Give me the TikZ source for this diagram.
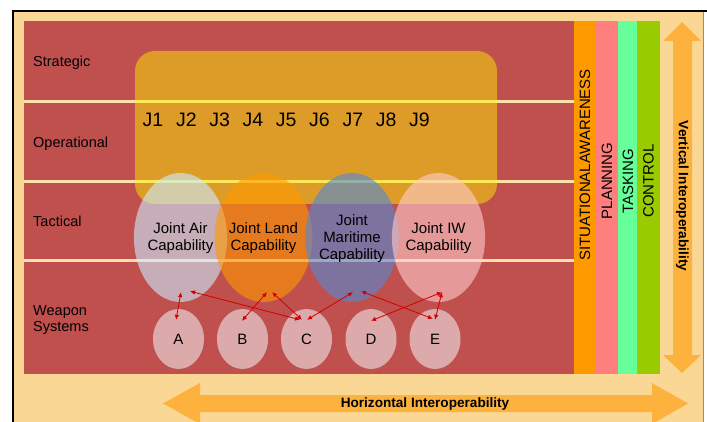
\documentclass[tikz,border=0pt]{standalone}
\usepackage{fontspec}
\setmainfont{Liberation Sans}
\usetikzlibrary{arrows.meta,calc,shapes.geometric}
\definecolor{tanbg}{HTML}{FAD794}
\definecolor{redbg}{HTML}{C0504D}
\definecolor{creamline}{HTML}{FCE0A8}
\definecolor{colsa}{HTML}{FF9900}
\definecolor{colpl}{HTML}{FF7F7F}
\definecolor{colta}{HTML}{66FF99}
\definecolor{colco}{HTML}{99CC00}
\definecolor{bigarrow}{HTML}{FDB23E}
\definecolor{airc}{HTML}{CCECFF}
\definecolor{landc}{HTML}{FF9900}
\definecolor{marc}{HTML}{5289D7}
\definecolor{iwc}{HTML}{FFCCCC}
\definecolor{smallc}{HTML}{DCAAAA}
\definecolor{arrred}{HTML}{D00000}
\begin{document}
\begin{tikzpicture}[x=1pt,y=-1pt,
  lbl/.style={anchor=base west, inner sep=0pt, font=\fontsize{14.5}{16.5}\selectfont, align=left},
  jlbl/.style={inner sep=0pt, font=\fontsize{19.5}{22}\selectfont},
  capell/.style={shape=ellipse, inner sep=0pt, fill opacity=0.6, text opacity=1, align=center,
    font=\fontsize{15}{17}\selectfont, minimum width=91pt, minimum height=129pt},
  wsys/.style={shape=ellipse, inner sep=0pt, fill=smallc, minimum width=51pt, minimum height=60pt,
    font=\fontsize{15}{17}\selectfont},
  coltext/.style={inner sep=0pt, rotate=90, font=\fontsize{15}{17}\selectfont},
  interop/.style={inner sep=0pt, font=\bfseries\fontsize{13.6}{16}\selectfont},
  conn/.style={draw=arrred, line width=0.8pt, arrows={Latex[length=5pt,width=4.5pt]-Latex[length=5pt,width=4.5pt]}},
  layerline/.style={draw=creamline, line width=3pt}
]
\useasboundingbox (0,0) rectangle (707,422);
\clip (0,0) rectangle (707,422);
\fill[white] (0,0) rectangle (707,422);
% background
\fill[tanbg] (14,12) rectangle (703,422);
\draw[black!35!tanbg, line width=0.8pt] (703,12) -- (703,422);
\draw[black, line width=2pt, line join=miter] (13,422) -- (13,11) -- (707,11);
% main red area
\fill[redbg] (24,21) rectangle (574,374);
% columns
\fill[colsa] (574,21) rectangle (596,374);
\fill[colpl] (596,21) rectangle (618,374);
\fill[colta] (618,21) rectangle (637,374);
\fill[colco] (637,21) rectangle (660,374);
% layer lines
\foreach \yy in {102,182,261} \draw[layerline] (24,\yy) -- (574,\yy);
% J box
\fill[yellow, fill opacity=0.47, rounded corners=20pt] (135,51) rectangle (497,204);
% left labels
\node[lbl] (strat) at (33,67) {Strategic};
\node[lbl] (oper) at (33,147.5) {Operational};
\node[lbl] (tact) at (33,227) {Tactical};
\node[lbl] (weap) at (33,331.5) {Weapon\\Systems};
% J labels
\foreach \i in {1,...,9} \node[jlbl] (j\i) at ({153+33.3*(\i-1)},119.5) {J\i};
% capabilities
\node[capell, fill=airc] (air) at (180.5,237.5) {\rule{0pt}{13pt}Joint Air\\Capability};
\node[capell, fill=landc, minimum width=93pt] (land) at (263.5,237.5) {\rule{0pt}{13pt}Joint Land\\Capability};
\node[capell, fill=marc, minimum width=90pt] (mar) at (352,237.5) {\rule{0pt}{13pt}Joint\\Maritime\\Capability};
\node[capell, fill=iwc, minimum width=93pt] (iw) at (438.5,237.5) {\rule{0pt}{13pt}Joint IW\\Capability};
% weapon systems
\node[wsys] (A) at (178.5,339) {A};
\node[wsys] (B) at (242.5,339) {B};
\node[wsys] (C) at (306.5,339) {C};
\node[wsys] (D) at (371,339) {D};
\node[wsys] (E) at (435,339) {E};
% connectors
\draw[conn] ($(air.south)+(0.5,-10)$) -- ($(A.north)+(-2.5,11)$);
\draw[conn] ($(air.south)+(9.5,-11)$) -- ($(C.north)+(-6.5,11)$);
\draw[conn] ($(land.south)+(3.5,-10)$) -- ($(B.north)+(-0.5,12)$);
\draw[conn] ($(land.south)+(8.5,-10)$) -- ($(C.north)+(-4.5,11)$);
\draw[conn] ($(mar.south)+(1,-10)$) -- ($(C.north)+(0.5,11)$);
\draw[conn] ($(mar.south)+(9,-11)$) -- ($(E.north)+(-2,10)$);
\draw[conn] ($(iw.south)+(3.5,-10)$) -- ($(D.north)+(0,12)$);
\draw[conn] ($(iw.south)+(3.5,-10)$) -- ($(E.north)+(0,11)$);
% column texts
\node[coltext] (sa) at (585,165) {SITUATIONALAWARENESS};
\node[coltext] (pl) at (607,181) {PLANNING};
\node[coltext] (ta) at (628,181) {TASKING};
\node[coltext] (co) at (648.5,181) {CONTROL};
% big arrows
\fill[bigarrow] (682,22) -- (701,41) -- (692,41) -- (692,355) -- (701,355) -- (682,373)
  -- (663,355) -- (673,355) -- (673,41) -- (663,41) -- cycle;
\fill[bigarrow] (163,403.5) -- (200,383) -- (200,395) -- (652,395) -- (652,383) -- (688,403.5)
  -- (652,424) -- (652,412) -- (200,412) -- (200,424) -- cycle;
\node[interop, rotate=-90] (vert) at (682.5,196) {Vertical Interoperability};
\node[interop] (horiz) at (425,403.5) {Horizontal Interoperability};
\end{tikzpicture}
\end{document}
